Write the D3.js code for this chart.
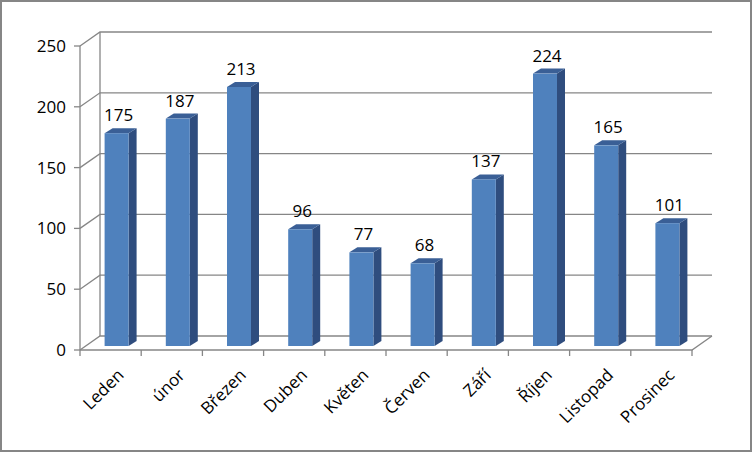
<!DOCTYPE html>
<html><head><meta charset="UTF-8">
<script src="https://d3js.org/d3.v7.min.js"></script>
<style>body{margin:0;background:#fff}svg{display:block;font-family:"Open Sans",sans-serif}</style>
</head><body><div id="chart"></div>
<script>
const months = ["Leden","únor","Březen","Duben","Květen","Červen","Září","Říjen","Listopad","Prosinec"];
const values = [175,187,213,96,77,68,137,224,165,101];
const ticks = [0,50,100,150,200,250];

const W = 752, H = 452;
const x0 = 80, x1 = 692, dx = 20, dy = -14;
const svg = d3.select("#chart").append("svg").attr("width", W).attr("height", H);
svg.append("rect").attr("x",1).attr("y",1).attr("width",W-2).attr("height",H-2)
  .attr("fill","#fff").attr("stroke","#868686").attr("stroke-width",2);

const y = d3.scaleLinear().domain([0,250]).range([350,46]);
const x = d3.scaleBand().domain(months).range([x0,x1]);

const g = svg.append("g");
// gridlines: diagonal on left wall + back wall
ticks.forEach(t => {
  const yy = y(t);
  g.append("path").attr("d",`M${x0},${yy}L${x0+dx},${yy+dy}L${x1+dx},${yy+dy}`)
    .attr("fill","none").attr("stroke","#868686").attr("stroke-width",1.3);
});
// left wall vertical lines
g.append("path").attr("d",`M${x0},${y(0)}V${y(250)}`).attr("stroke","#868686").attr("stroke-width",1.3);
g.append("path").attr("d",`M${x0+dx},${y(0)+dy}V${y(250)+dy}`).attr("stroke","#868686").attr("stroke-width",1.3);
// floor
g.append("path").attr("d",`M${x0},${y(0)}H${x1}L${x1+dx},${y(0)+dy}`).attr("fill","none").attr("stroke","#868686").attr("stroke-width",1.3);
// ticks
ticks.forEach(t => g.append("line").attr("x1",x0-6).attr("x2",x0).attr("y1",y(t)).attr("y2",y(t)).attr("stroke","#868686").attr("stroke-width",1.3));
months.concat([null]).forEach((m,i) => {
  const xx = x0 + i*x.step();
  g.append("line").attr("x1",xx).attr("x2",xx).attr("y1",y(0)).attr("y2",y(0)+6).attr("stroke","#868686").attr("stroke-width",1.3);
});
g.selectAll(".yl").data(ticks).join("text").attr("x",x0-14).attr("y",d=>y(d)).attr("dy","0.35em")
  .attr("text-anchor","end").attr("font-size",17).text(d=>d);

// bars
const ox = 6, oy = -4, bw = 24, sx = 8, sy = -5;
months.forEach((m,i) => {
  const cx = x(m) + x.bandwidth()/2 + ox;
  const bl = cx - bw/2, br = cx + bw/2;
  const top = y(values[i]) + oy, bot = y(0) + oy;
  g.append("path").attr("d",`M${br},${bot}L${br+sx},${bot+sy}L${br+sx},${top+sy}L${br},${top}Z`).attr("fill","#2f4d7e");
  g.append("path").attr("d",`M${bl},${top}L${bl+sx},${top+sy}L${br+sx},${top+sy}L${br},${top}Z`).attr("fill","#3a5f96");
  g.append("rect").attr("x",bl).attr("y",top).attr("width",bw).attr("height",bot-top).attr("fill","#4f81bd");
  g.append("text").attr("x",cx+2).attr("y",top-12).attr("text-anchor","middle").attr("font-size",17).text(values[i]);
  const lx = x0 + (i+0.5)*x.step() + 10;
  g.append("text").attr("transform",`translate(${lx},${y(0)+22}) rotate(-45)`)
    .attr("text-anchor","end").attr("dy","0.35em").attr("font-size",17).text(m);
});
</script></body></html>
